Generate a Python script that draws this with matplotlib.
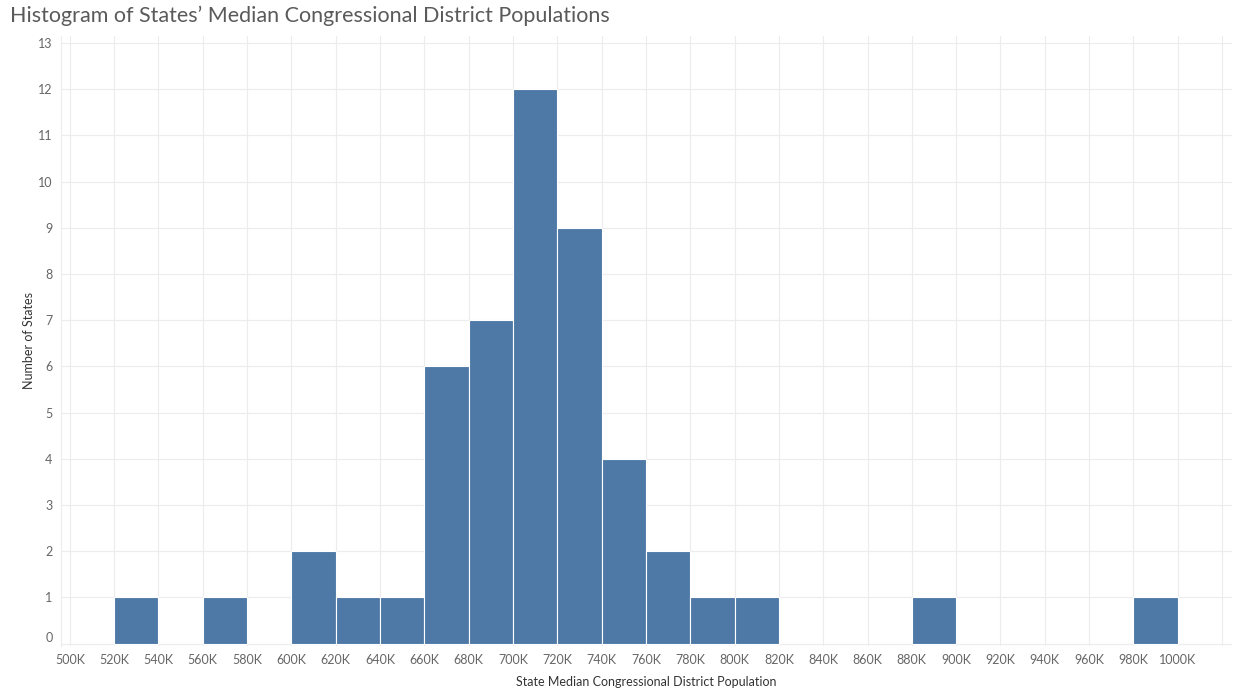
import matplotlib.pyplot as plt
import numpy as np

# bin left edges (thousands) and number of states in each 20K bin
bin_starts = [520, 560, 600, 620, 640, 660, 680, 700, 720, 740, 760, 780, 800, 880, 980]
counts = [1, 1, 2, 1, 1, 6, 7, 12, 9, 4, 2, 1, 1, 1, 1]
bin_width = 20
x_ticks = list(range(500, 1001, 20))
x_labels = ["%dK" % v for v in x_ticks]
y_ticks = list(range(0, 14))

W, H = 1233, 699
fig = plt.figure(figsize=(W / 100, H / 100), dpi=100)
ax = fig.add_axes([61 / W, 1 - 646 / H, (1232 - 61) / W, (646 - 36) / H])

font = ["Lato", "DejaVu Sans"]
grid_c = "#ececec"
text_c = "#666666"

ax.bar(bin_starts, counts, width=bin_width, align="edge", color="#4e79a7",
       edgecolor="white", linewidth=0.8, zorder=3)

ax.set_xlim(496, 1024.5)
ax.set_ylim(-0.05, 13.15)

ax.set_xticks(list(range(500, 1021, 20)), minor=False)
ax.set_xticklabels(x_labels + [""], fontsize=9, color=text_c, family=font)
ax.set_yticks(y_ticks)
ylabs = ax.set_yticklabels([str(v) for v in y_ticks], fontsize=9, color=text_c, family=font)
ylabs[0].set_va("bottom")
ax.tick_params(length=0, pad=6)

ax.grid(True, color=grid_c, linewidth=0.8, zorder=0)
for s in ["top", "right", "bottom"]:
    ax.spines[s].set_visible(False)
ax.spines["left"].set_color(grid_c)
ax.axhline(-0.05, color=grid_c, linewidth=0.8, zorder=1)

ax.set_xlabel("State Median Congressional District Population", fontsize=9,
              color="#333333", family=font, labelpad=7)
ax.set_ylabel("Number of States", fontsize=9, color="#333333", family=font, labelpad=2)

fig.text(10 / W, 1 - 16 / H, "Histogram of States\u2019 Median Congressional District Populations",
         fontsize=15.5, color="#5a5a5a", family=font, va="center", ha="left")

fig.savefig("out.png", dpi=100)
